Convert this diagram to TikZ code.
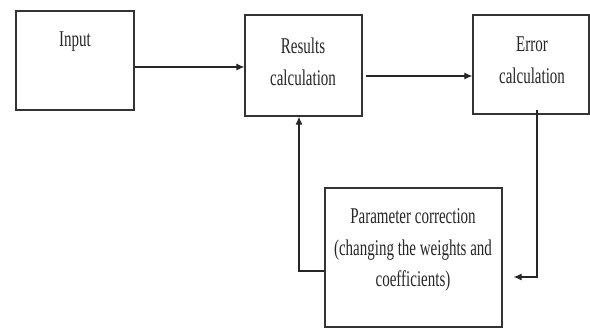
\documentclass[tikz,border=0pt]{standalone}
\usepackage{fontspec}
\setmainfont{Liberation Serif}
\usetikzlibrary{arrows.meta}
\begin{document}
\begin{tikzpicture}[x=1pt,y=-1pt,
  box/.style={draw=black!80,line width=1.3pt,inner sep=0pt},
  txt/.style={font=\fontsize{15}{21}\selectfont,align=center,inner sep=0pt,text=black!85,yscale=1.5},
  arr/.style={draw=black!85,line width=1.1pt,-{Latex[length=8pt,width=7pt]}}]
\useasboundingbox (0,0) rectangle (590,329);
\node[box,minimum width=118pt,minimum height=99pt] (in) at (75,60.5) {};
\node[box,minimum width=117pt,minimum height=101pt] (res) at (303.5,65.5) {};
\node[box,minimum width=116pt,minimum height=99pt] (err) at (531,64.5) {};
\node[box,minimum width=177pt,minimum height=139pt] (par) at (413.5,257.5) {};
\node[txt] (tin) at (75,42) {Input};
\node[txt] (tres) at (303,62) {Results\\calculation};
\node[txt] (terr) at (532,60) {Error\\calculation};
\node[txt] (tpar) at (413,250) {Parameter correction\\(changing the weights and\\coefficients)};
\draw[arr] (in.east |- 0,67) -- (res.west |- 0,67);
\draw[arr] ([xshift=3pt]res.east |- 0,76) -- (err.west |- 0,76);
\draw[arr,shorten >=11pt] ([yshift=5pt]err.south -| 537,0) |- (par.east |- 0,277);
\draw[arr] (par.west |- 0,271) -| (res.south -| 299,0);
\end{tikzpicture}
\end{document}
